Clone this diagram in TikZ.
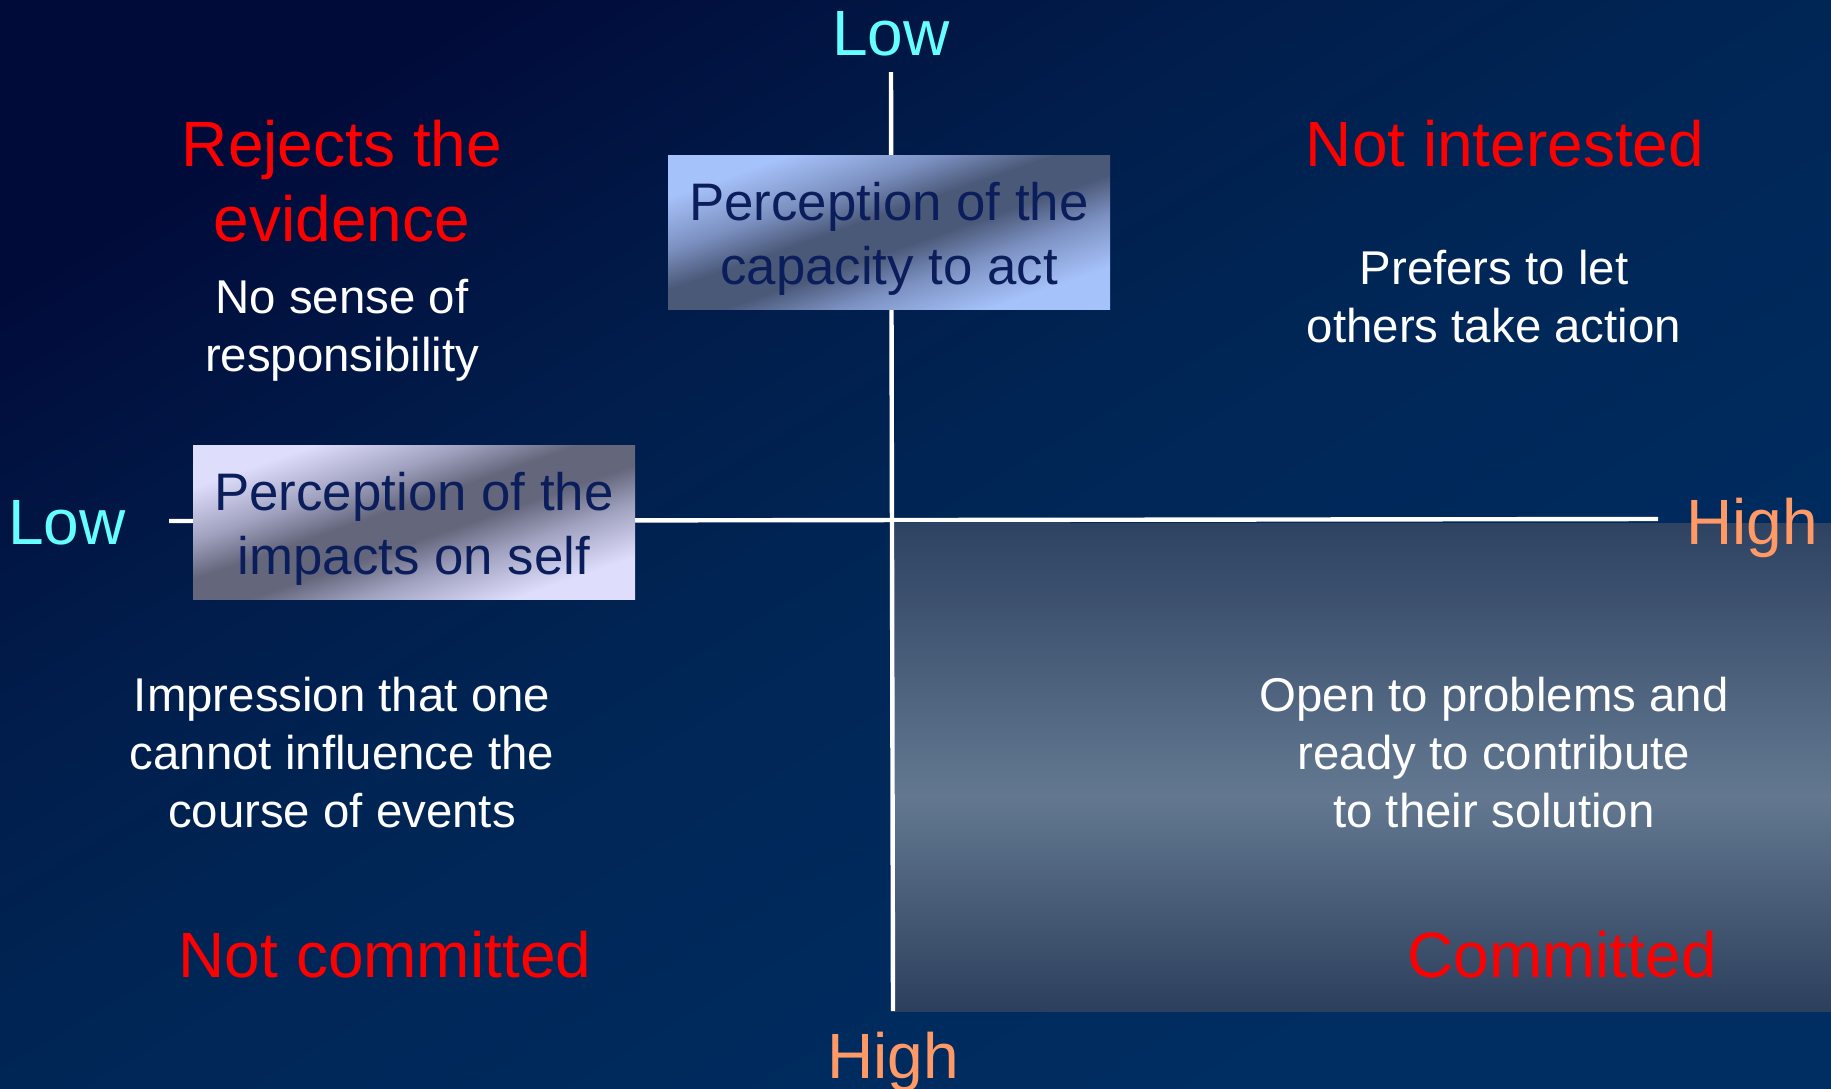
\documentclass[tikz,border=0pt]{standalone}
\usepackage{fontspec}
\setmainfont{Liberation Sans}
\definecolor{bgTL}{HTML}{010B3A}
\definecolor{bgM2}{HTML}{011C4A}
\definecolor{bgM}{HTML}{002656}
\definecolor{bgBR}{HTML}{002E63}
\definecolor{qTop}{HTML}{2E4262}
\definecolor{qBot}{HTML}{2C3F5D}
\definecolor{qMid}{HTML}{637890}
\definecolor{titlered}{HTML}{FF0000}
\definecolor{lowcyan}{HTML}{66FFFF}
\definecolor{highorange}{HTML}{FF9966}
\definecolor{boxtext}{HTML}{0B1E5B}
\definecolor{boxAlight}{HTML}{A6C2FA}
\definecolor{boxAmid}{HTML}{7B90C0}
\definecolor{boxAdark}{HTML}{4B5979}
\definecolor{boxBlight}{HTML}{DEDEFC}
\definecolor{boxBmid}{HTML}{A0A1BE}
\definecolor{boxBdark}{HTML}{64667C}
\pgfdeclareverticalshading{bgshade}{100bp}{color(0bp)=(bgBR); color(25bp)=(bgBR); color(50bp)=(bgM); color(62bp)=(bgM2); color(75bp)=(bgTL); color(100bp)=(bgTL)}
\pgfdeclareverticalshading{quadshade}{100bp}{color(0bp)=(qBot); color(25bp)=(qBot); color(47bp)=(qMid); color(75bp)=(qTop); color(100bp)=(qTop)}
\pgfdeclareverticalshading{boxAshading}{100bp}{color(0bp)=(boxAlight); color(27bp)=(boxAlight); color(38bp)=(boxAmid); color(46bp)=(boxAdark); color(54bp)=(boxAdark); color(62bp)=(boxAmid); color(73bp)=(boxAlight); color(100bp)=(boxAlight)}
\pgfdeclareverticalshading{boxBshading}{100bp}{color(0bp)=(boxBlight); color(27bp)=(boxBlight); color(38bp)=(boxBmid); color(46bp)=(boxBdark); color(54bp)=(boxBdark); color(62bp)=(boxBmid); color(73bp)=(boxBlight); color(100bp)=(boxBlight)}
\begin{document}
\begin{tikzpicture}[x=0.5pt,y=-0.5pt,
  redtitle/.style={text=titlered, font=\fontsize{32}{37.5}\selectfont, align=center, inner sep=0pt},
  whitetext/.style={text=white, font=\fontsize{23.7}{29}\selectfont, align=center, inner sep=0pt},
  axislow/.style={text=lowcyan, font=\fontsize{32}{38}\selectfont, inner sep=0pt, anchor=base},
  axishigh/.style={text=highorange, font=\fontsize{32}{38}\selectfont, inner sep=0pt, anchor=base},
  percbox/.style={minimum width=221pt, minimum height=77pt, inner sep=0pt, align=center,
    text=boxtext, font=\fontsize{26.4}{32}\selectfont, shade, shading angle=19.2},
  axisline/.style={white, line width=2.2pt}
]
\useasboundingbox (0,0) rectangle (1831,1088);
\shade[shading=bgshade, shading angle=30.7] (0,0) rectangle (1831,1088);
\shade[shading=quadshade] (894,523) rectangle (1831,1011);

\coordinate (vtop) at (891,72);
\coordinate (vbot) at (893,1011);
\coordinate (hleft) at (169,521);
\coordinate (hright) at (1658,519);
\draw[axisline] (vtop) -- (vbot);
\draw[axisline] (hleft) -- (hright);

\node[percbox, shading=boxAshading] (capacity) at (889,232) {\rule{0pt}{26.3pt}Perception of the\\capacity to act};
\node[percbox, shading=boxBshading] (impacts) at (414,522) {\rule{0pt}{26.3pt}Perception of the\\impacts on self};

\node[axislow] (lowtop) at (891,55) {Low};
\node[axislow] (lowleft) at (67,544) {Low};
\node[axishigh] (highright) at (1752,544) {High};
\node[axishigh] (highbottom) at (893,1078) {High};

\node[redtitle] (rejects) at (342,181) {Rejects the\\evidence};
\node[redtitle] (notinterested) at (1505,144) {Not interested};
\node[redtitle] (notcommitted) at (385,955) {Not committed};
\node[redtitle] (committed) at (1562,955) {Committed};

\node[whitetext] (nosense) at (342,330) {No sense of\\responsibility};
\node[whitetext] (prefers) at (1494,297) {Prefers to let\\others take action};
\node[whitetext] (impression) at (342,753) {Impression that one\\cannot influence the\\course of events};
\node[whitetext] (open) at (1494,753) {Open to problems and\\ready to contribute\\to their solution};
\end{tikzpicture}
\end{document}
